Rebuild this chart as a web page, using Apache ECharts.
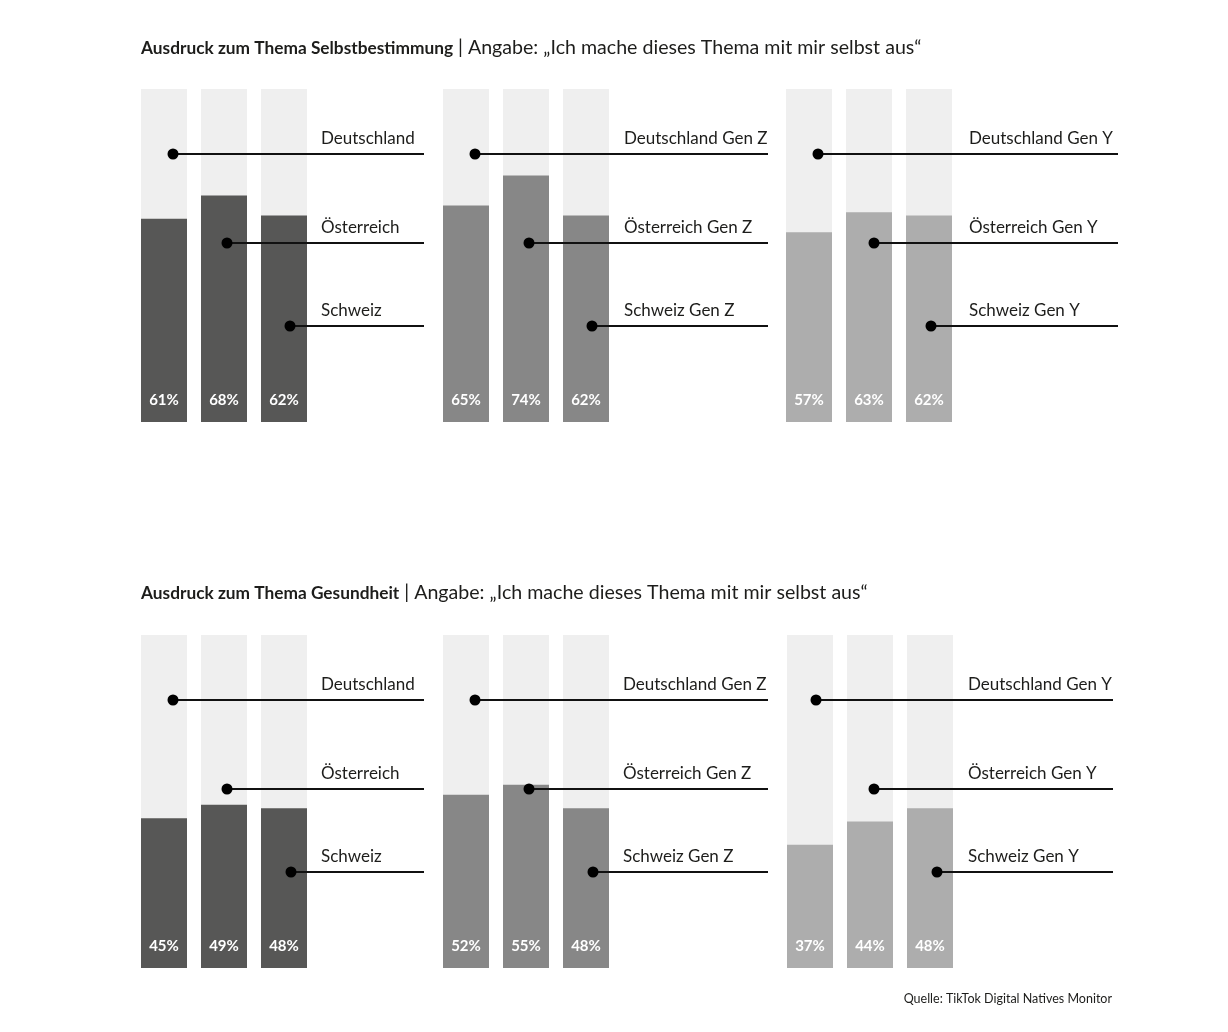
<!DOCTYPE html>
<html>
<head>
<meta charset="utf-8">
<script src="https://cdn.jsdelivr.net/npm/echarts@6/dist/echarts.min.js"></script>
<style>
html,body{margin:0;padding:0;background:#fff;}
#chart{width:1228px;height:1032px;}
</style>
</head>
<body>
<div id="chart"></div>
<script>
// ---- data ----
const countries = ['Deutschland', 'Österreich', 'Schweiz'];
const groupSuffixes = ['', ' Gen Z', ' Gen Y'];
const topicTitles = ['Ausdruck zum Thema Selbstbestimmung', 'Ausdruck zum Thema Gesundheit'];
const subtitle = 'Angabe: „Ich mache dieses Thema mit mir selbst aus“';
const selbstAlle = [61, 68, 62];
const selbstGenZ = [65, 74, 62];
const selbstGenY = [57, 63, 62];
const gesundAlle = [45, 49, 48];
const gesundGenZ = [52, 55, 48];
const gesundGenY = [37, 44, 48];
const sourceText = 'Quelle: TikTok Digital Natives Monitor';

// ---- layout / style ----
const FONT = 'Lato, "Noto Sans", sans-serif';
const groupColors = ['#575756', '#878787', '#adadad'];
const bgColor = '#efefef';
const inkColor = '#1d1d1b';
const rowTops = [89, 635];
const rowHeight = 333;
const panelLefts = [[134, 436, 779], [134, 436, 780]];
const panelWidth = 180;
const lineEnds = [[424, 768, 1118], [424, 768, 1113]];
const labelXs = [[321, 624, 969], [321, 623, 968]];
const leaderLevels = [80.5, 53.8, 28.8];
const dotOffsets = [
  [[9, 3, 6], [9, 3, 6], [9, 5, 2]],
  [[9, 3, 7], [9, 3, 7], [6, 4, 7]]
];
const rowsData = [[selbstAlle, selbstGenZ, selbstGenY], [gesundAlle, gesundGenZ, gesundGenY]];
const titleTops = [38, 583];

const grids = [], xAxes = [], yAxes = [], series = [];
rowsData.forEach((row, r) => {
  row.forEach((values, g) => {
    const idx = grids.length;
    grids.push({left: panelLefts[r][g], top: rowTops[r], width: panelWidth, height: rowHeight});
    xAxes.push({type: 'category', gridIndex: idx, data: countries, show: false});
    yAxes.push({type: 'value', gridIndex: idx, min: 0, max: 100, show: false});
    series.push({
      type: 'bar', xAxisIndex: idx, yAxisIndex: idx, data: values, barWidth: 46,
      showBackground: true, backgroundStyle: {color: bgColor},
      itemStyle: {color: groupColors[g]}, silent: true,
      label: {show: true, position: 'insideBottom', distance: 14, formatter: '{c}%',
        color: '#ffffff', fontWeight: 'bold', fontSize: 15, fontFamily: FONT}
    });
    const names = countries.map(c => c + groupSuffixes[g]);
    const offs = dotOffsets[r][g], lineEnd = lineEnds[r][g], labelX = labelXs[r][g];
    series.push({
      type: 'custom', xAxisIndex: idx, yAxisIndex: idx, clip: false, silent: true, z: 10,
      data: countries.map((c, i) => [i, leaderLevels[i]]),
      renderItem: (params, api) => {
        const p = api.coord([api.value(0), api.value(1)]);
        const x = p[0] + offs[params.dataIndex];
        const y = Math.round(p[1]);
        return {type: 'group', children: [
          {type: 'line', shape: {x1: x, y1: y, x2: lineEnd, y2: y}, style: {stroke: '#111', lineWidth: 1.8}},
          {type: 'circle', shape: {cx: x, cy: y, r: 5.5}, style: {fill: '#000'}},
          {type: 'text', x: labelX, y: y - 15, style: {text: names[params.dataIndex], fill: inkColor,
            fontSize: 17, fontFamily: FONT, verticalAlign: 'middle', align: 'left'}}
        ]};
      }
    });
  });
});

const titles = topicTitles.map((t, r) => ({
  left: 141, top: titleTops[r], padding: 0,
  text: '{b|' + t + '}{r| | ' + subtitle + '}',
  textStyle: {fontWeight: 'normal', rich: {
    b: {fontSize: 17.3, fontWeight: 'bold', color: inkColor, fontFamily: FONT},
    r: {fontSize: 19.6, fontWeight: 'normal', color: inkColor, fontFamily: FONT}
  }}
}));
titles.push({
  right: 116, top: 992, padding: 0, text: sourceText,
  textStyle: {fontSize: 12.5, fontWeight: 'normal', color: inkColor, fontFamily: FONT}
});

const chart = echarts.init(document.getElementById('chart'));
chart.setOption({
  backgroundColor: '#ffffff',
  animation: false,
  title: titles,
  grid: grids,
  xAxis: xAxes,
  yAxis: yAxes,
  series: series
});
</script>
</body>
</html>
